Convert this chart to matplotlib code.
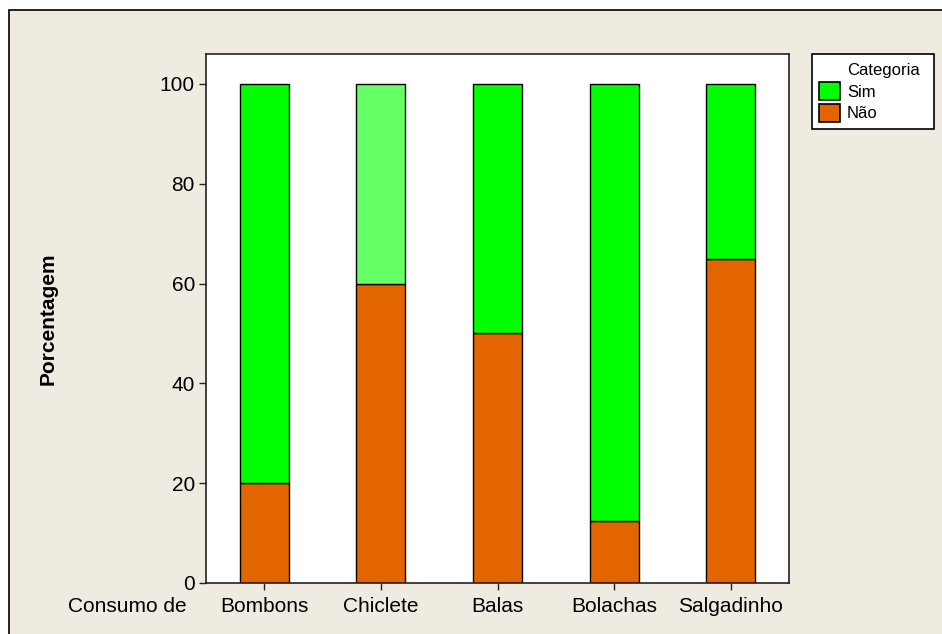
import matplotlib
matplotlib.use("Agg")
import matplotlib.pyplot as plt
from matplotlib.patches import Rectangle, Patch
import numpy as np

plt.rcParams['font.family'] = ['Liberation Sans', 'DejaVu Sans']

categories = ["Bombons", "Chiclete", "Balas", "Bolachas", "Salgadinho"]
nao = [20, 60, 50, 12.5, 65]
sim = [80, 40, 50, 87.5, 35]
sim_colors = ["#00FF00", "#66FF66", "#00FF00", "#00FF00", "#00FF00"]
nao_color = "#E36500"
yticks = [0, 20, 40, 60, 80, 100]

bg = "#EFEBE1"
fig = plt.figure(figsize=(9.42, 6.34), dpi=100, facecolor="white")
frame = Rectangle((9/942, -0.05), 1.1, 1 - 10/634 + 0.05, transform=fig.transFigure,
                  facecolor=bg, edgecolor="black", linewidth=1.2, zorder=-10)
fig.add_artist(frame)

ax = fig.add_axes([206/942, (634-583)/634, (789-206)/942, (583-54)/634])
ax.set_zorder(1)
ax.set_facecolor("white")
x = np.arange(len(categories))
w = 0.42
ax.bar(x, nao, width=w, color=nao_color, edgecolor="black", linewidth=1.0, zorder=2)
ax.bar(x, sim, width=w, bottom=nao, color=sim_colors, edgecolor="black", linewidth=1.0, zorder=2)

ax.set_xlim(-0.5, 4.5)
ax.set_ylim(0, 106)
ax.set_yticks(yticks)
ax.set_xticks(x)
ax.set_xticklabels(categories)
ax.tick_params(axis='both', direction='out', length=5, width=1, labelsize=15, color="#222222")
ax.tick_params(axis='x', pad=5)
ax.tick_params(axis='y', pad=3)
for s in ax.spines.values():
    s.set_linewidth(1.2)
    s.set_color("#222222")

ax.set_ylabel("Porcentagem", fontsize=15, fontweight="bold", labelpad=0)
ax.yaxis.set_label_coords((48 - 206) / 583, 0.5)
ax.yaxis.label.set_va("center")

fig.text(68/942, 1 - 607/634, "Consumo de", fontsize=15, ha="left", va="center")

handles = [Patch(facecolor="none", edgecolor="none"),
           Patch(facecolor="#00FF00", edgecolor="black", linewidth=1.2),
           Patch(facecolor=nao_color, edgecolor="black", linewidth=1.2)]
labels = ["Categoria", "Sim", "Não"]
leg = fig.legend(handles, labels, loc="upper left",
                 bbox_to_anchor=(812/942, 1 - 54/634, 122/942, 0.0), mode="expand",
                 fontsize=12, frameon=True, fancybox=False, edgecolor="black",
                 framealpha=1.0,
                 handlelength=1.25, handleheight=1.3, handletextpad=0.45,
                 labelspacing=0.2, borderpad=0.4, borderaxespad=0)
leg.set_zorder(5)
leg.get_frame().set_linewidth(1.2)
leg.get_frame().set_facecolor("white")

fig.savefig("out.png", dpi=100, facecolor=fig.get_facecolor())
